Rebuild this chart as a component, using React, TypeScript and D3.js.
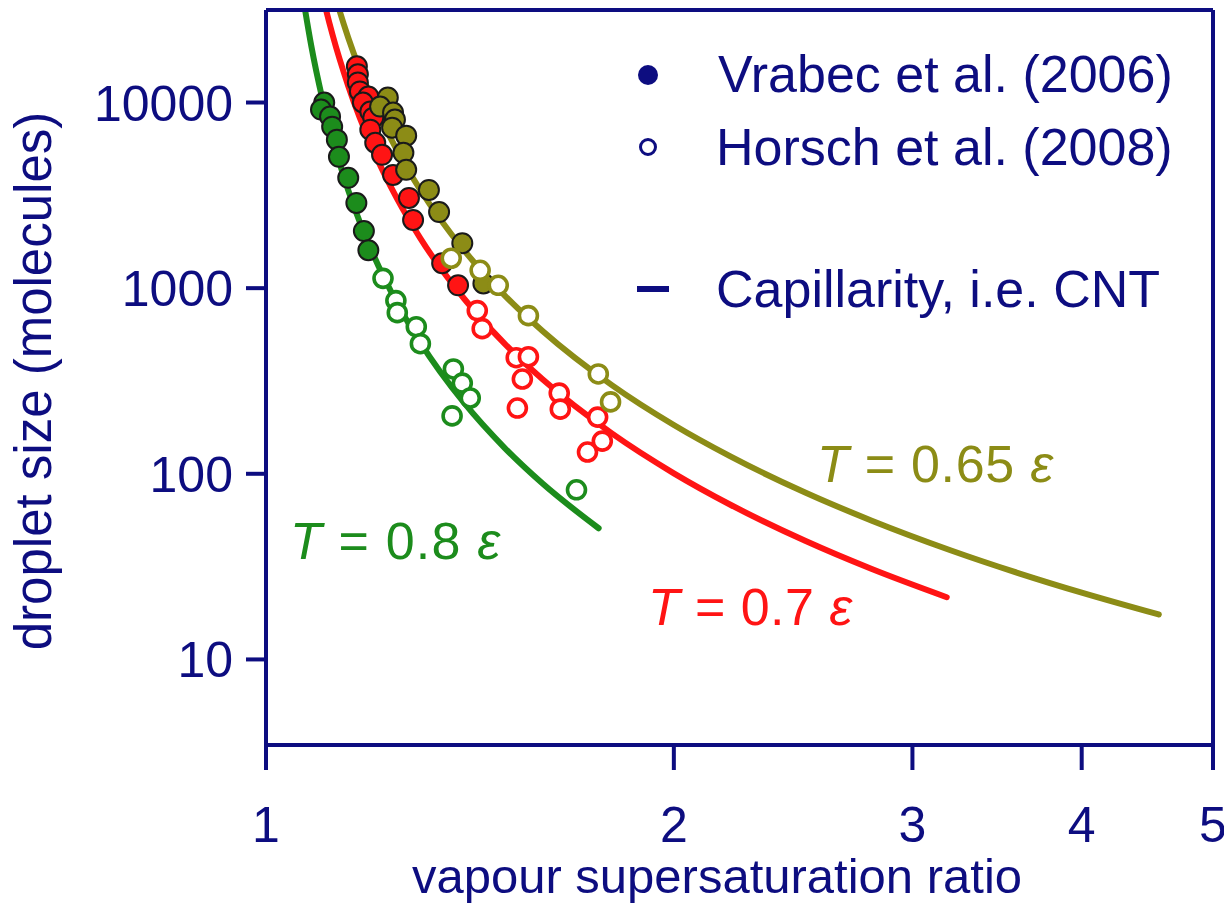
import React from "react";
import * as d3 from "d3";

// ---------- data (S = vapour supersaturation ratio, N = droplet size) ----------
const xTicks = [1, 2, 3, 4, 5];
const yTicks = [10, 100, 1000, 10000];

const greenFilled: [number, number][] = [
  [1.104, 10000], [1.098, 9160], [1.115, 8400], [1.119, 7410], [1.128, 6310],
  [1.132, 5100], [1.15, 3930], [1.166, 2875], [1.181, 2030], [1.19, 1600],
];
const greenOpen: [number, number][] = [
  [1.22, 1129], [1.247, 857], [1.25, 738], [1.291, 620], [1.3, 502],
  [1.375, 367], [1.396, 308], [1.415, 256], [1.372, 205], [1.695, 82],
];
const redFilled: [number, number][] = [
  [1.167, 15670], [1.169, 14190], [1.169, 12830], [1.173, 11470], [1.19, 10770],
  [1.179, 10000], [1.194, 8940], [1.2, 8290], [1.194, 7140], [1.204, 6070],
  [1.218, 5225], [1.241, 4070], [1.275, 3060], [1.284, 2330], [1.349, 1362],
  [1.386, 1036],
];
const redOpen: [number, number][] = [
  [1.432, 757], [1.444, 605], [1.53, 422], [1.562, 427], [1.546, 324],
  [1.533, 226], [1.646, 272], [1.649, 223], [1.757, 202], [1.771, 150],
  [1.727, 131],
];
const oliveFilled: [number, number][] = [
  [1.23, 10640], [1.214, 9510], [1.241, 8830], [1.245, 8090], [1.239, 7320],
  [1.269, 6630], [1.263, 5360], [1.269, 4340], [1.319, 3380], [1.342, 2570],
  [1.396, 1747], [1.447, 1060],
];
const oliveOpen: [number, number][] = [
  [1.37, 1449], [1.439, 1248], [1.484, 1036], [1.562, 711], [1.759, 345],
  [1.796, 244],
];

const greenCurve: [number, number][] = [
  [1.066, 35200], [1.08, 20180], [1.1, 10630], [1.12, 6320], [1.15, 3370],
  [1.2, 1518], [1.25, 828], [1.3, 509], [1.4, 241.5], [1.5, 138], [1.6, 88.6],
  [1.76, 50.9],
];
const redCurve: [number, number][] = [
  [1.09, 52340], [1.1, 38690], [1.12, 23010], [1.15, 12270], [1.2, 5527],
  [1.25, 3015], [1.3, 1855], [1.4, 879.5], [1.5, 502.6], [1.6, 322.7],
  [1.8, 165.0], [2.0, 100.6], [2.2, 68.35], [2.5, 43.55], [2.8, 30.69],
  [3.18, 21.64],
];
const oliveCurve: [number, number][] = [
  [1.12, 41910], [1.13, 33410], [1.15, 22340], [1.2, 10060], [1.25, 5490],
  [1.3, 3378], [1.4, 1601], [1.5, 915], [1.6, 587.6], [1.8, 300.4],
  [2.0, 183.2], [2.2, 124.5], [2.5, 79.3], [2.8, 55.9], [3.2, 38.76],
  [3.6, 29.02], [4.0, 22.9], [4.56, 17.46],
];

// ---------- layout / style ----------
const W = 1224;
const H = 905;
const L = 266, R = 1213, T = 10, B = 745;
const NAVY = "#0d0d80";
const GREEN = "#1c8c1c";
const RED = "#ff1414";
const OLIVE = "#8c8c16";
const FONT = "'Liberation Sans', Arial, Helvetica, sans-serif";

export default function App() {
  const x = d3.scaleLog().domain([1, 5]).range([L, R]);
  const y = d3.scaleLog().domain([3.46, 31500]).range([B, T]);
  const line = d3
    .line<[number, number]>()
    .x((d) => x(d[0]))
    .y((d) => y(d[1]))
    .curve(d3.curveMonotoneX);

  const series = [
    { curve: greenCurve, filled: greenFilled, open: greenOpen, color: GREEN },
    { curve: redCurve, filled: redFilled, open: redOpen, color: RED },
    { curve: oliveCurve, filled: oliveFilled, open: oliveOpen, color: OLIVE },
  ];

  return (
    <svg
      width={W}
      height={H}
      style={{ position: "absolute", left: 0, top: 0, background: "#fff" }}
      fontFamily={FONT}
    >
      <defs>
        <clipPath id="plot">
          <rect x={L} y={T} width={R - L} height={B - T} />
        </clipPath>
      </defs>
      <rect x={0} y={0} width={W} height={H} fill="#fff" />

      {/* curves */}
      <g clipPath="url(#plot)">
        {series.map((s, i) => (
          <path
            key={"c" + i}
            d={line(s.curve) || ""}
            fill="none"
            stroke={s.color}
            strokeWidth={6}
            strokeLinecap="round"
          />
        ))}
      </g>

      {/* filled points */}
      {series.map((s, i) => (
        <g key={"f" + i}>
          {s.filled.map((d, j) => (
            <circle
              key={j}
              cx={x(d[0])}
              cy={y(d[1])}
              r={10}
              fill={s.color}
              stroke="#1a1a1a"
              strokeWidth={2}
            />
          ))}
        </g>
      ))}
      {/* open points */}
      {series.map((s, i) => (
        <g key={"o" + i}>
          {s.open.map((d, j) => (
            <circle
              key={j}
              cx={x(d[0])}
              cy={y(d[1])}
              r={9}
              fill="#fff"
              stroke={s.color}
              strokeWidth={3.6}
            />
          ))}
        </g>
      ))}

      {/* frame */}
      <g stroke={NAVY} strokeWidth={4} fill="none">
        <line x1={L} y1={T} x2={R} y2={T} />
        <line x1={R} y1={T} x2={R} y2={B} />
        <line x1={L} y1={T} x2={L} y2={B} />
        <line x1={L} y1={B} x2={R} y2={B} />
      </g>

      {/* y axis ticks */}
      {yTicks.map((t) => (
        <g key={"yt" + t}>
          <line x1={L - 20} x2={L} y1={y(t)} y2={y(t)} stroke={NAVY} strokeWidth={4} />
          <text
            x={L - 33}
            y={y(t) + 18}
            textAnchor="end"
            fontSize={50}
            fill={NAVY}
          >
            {String(t)}
          </text>
        </g>
      ))}
      {/* x axis ticks */}
      {xTicks.map((t) => (
        <g key={"xt" + t}>
          <line x1={x(t)} x2={x(t)} y1={B} y2={B + 25} stroke={NAVY} strokeWidth={4} />
          <text x={x(t)} y={842} textAnchor="middle" fontSize={50} fill={NAVY}>
            {String(t)}
          </text>
        </g>
      ))}

      {/* axis titles */}
      <text x={717} y={893} textAnchor="middle" fontSize={49} fill={NAVY}>
        vapour supersaturation ratio
      </text>
      <text
        transform={`translate(51,381) rotate(-90)`}
        textAnchor="middle"
        fontSize={51}
        fill={NAVY}
      >
        droplet size (molecules)
      </text>

      {/* legend */}
      <circle cx={648} cy={75} r={10} fill={NAVY} />
      <text x={718} y={92} fontSize={52} fill={NAVY}>
        Vrabec et al. (2006)
      </text>
      <circle cx={648} cy={147} r={7.5} fill="#fff" stroke={NAVY} strokeWidth={3} />
      <text x={716} y={165} fontSize={52} fill={NAVY}>
        Horsch et al. (2008)
      </text>
      <line x1={637} x2={669} y1={289} y2={289} stroke={NAVY} strokeWidth={6} />
      <text x={716} y={307} fontSize={52} fill={NAVY}>
        Capillarity, i.e. CNT
      </text>

      {/* annotations */}
      <text x={290} y={559} fontSize={52} fill={GREEN} textLength={210}>
        <tspan fontStyle="italic">T</tspan>
        {" = 0.8 "}
        <tspan fontStyle="italic">ε</tspan>
      </text>
      <text x={648} y={625} fontSize={52} fill={RED} textLength={204}>
        <tspan fontStyle="italic">T</tspan>
        {" = 0.7 "}
        <tspan fontStyle="italic">ε</tspan>
      </text>
      <text x={817} y={482} fontSize={52} fill={OLIVE} textLength={236}>
        <tspan fontStyle="italic">T</tspan>
        {" = 0.65 "}
        <tspan fontStyle="italic">ε</tspan>
      </text>
    </svg>
  );
}
